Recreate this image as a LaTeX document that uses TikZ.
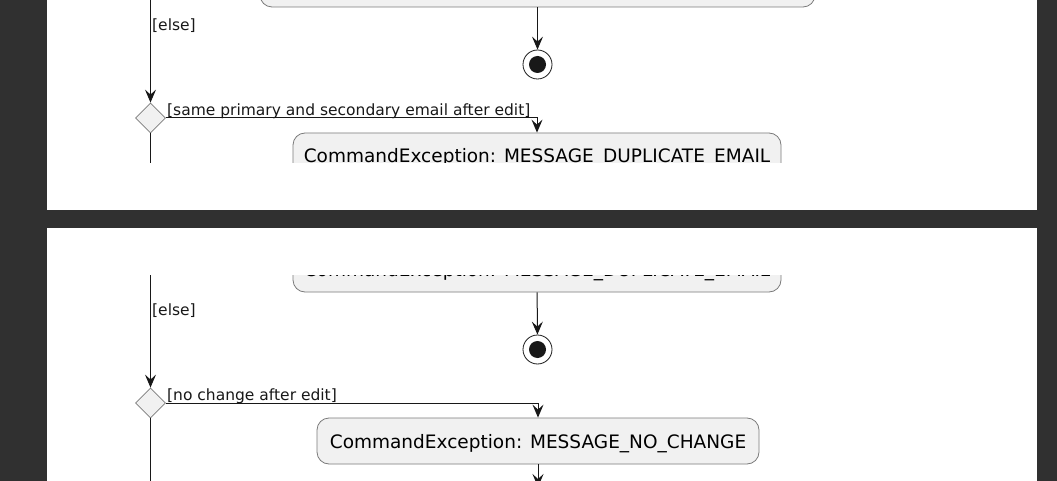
\documentclass[tikz,border=0pt]{standalone}
\usepackage{fontspec}
\setmainfont{DejaVu Sans}
\usetikzlibrary{arrows.meta,shapes.geometric}
\definecolor{ink}{HTML}{181818}
\definecolor{screen}{HTML}{303030}
\definecolor{actfill}{HTML}{F1F1F1}
\definecolor{rim}{HTML}{7A7A7A}

\begin{document}
\begin{tikzpicture}[x=1pt, y=-1pt,
    act/.style={draw=rim, line width=0.8pt, fill=actfill, rounded corners=12pt, minimum height=46pt, inner sep=0pt,
      text height=16pt, text depth=2pt, font=\fontsize{18.5}{20}\selectfont},
    choice/.style={diamond, draw=rim, line width=0.8pt, fill=actfill, minimum width=30pt, minimum height=30pt, inner sep=0pt},
    stop/.style={circle, draw=ink, line width=0.8pt, fill=white, minimum size=29pt, inner sep=0pt,
      path picture={\fill[ink] (path picture bounding box.center) circle (8.5pt);}},
    guard/.style={font=\fontsize{15.5}{17}\selectfont, inner sep=0pt, text=ink},
    flow/.style={draw=ink, line width=1pt},
    >={Stealth[length=13pt, width=11pt, inset=5pt]}]
  % screen and the two cut-out panels
  \fill[screen] (0,0) rectangle (1057,481);
  \fill[white] (47,0) rectangle (1037,210);
  \fill[white] (47,228) rectangle (1037,481);

  % upper panel
  \begin{scope}
    \clip (47,0) rectangle (1037,163);
    \node[act, minimum width=555pt] (prev) at (537.5,-16) {};
    \node[stop] (end1) at (537.5,64.5) {};
    \node[choice] (d1) at (150.5,118) {};
    \node[act, minimum width=488pt] (dup) at (537,156) {CommandException: MESSAGE\_DUPLICATE\_EMAIL};
    \coordinate (in1) at (150.5,-10);
    \coordinate (out1) at (150.5,180);
    \node[guard, anchor=base west] (else1) at (152,31) {[else]};
    \node[guard, anchor=base west] (g1) at (167,115.5) {[same primary and secondary email after edit]};
    \draw[flow,->] (prev) -- (end1);
    \draw[flow,->] (in1) -- (d1);
    \draw[flow,->] (d1.east) -| (dup.north);
    \draw[flow] (d1) -- (out1);
  \end{scope}

  % lower panel
  \begin{scope}
    \clip (47,275) rectangle (1037,481);
    \node[act, minimum width=488pt] (dup2) at (537,269) {CommandException: MESSAGE\_DUPLICATE\_EMAIL};
    \node[stop] (end2) at (537.5,349.5) {};
    \node[choice] (d2) at (150.5,403) {};
    \node[act, minimum width=442pt] (nochg) at (538,441) {CommandException: MESSAGE\_NO\_CHANGE};
    \coordinate (in2) at (150.5,260);
    \coordinate (out2) at (150.5,495);
    \coordinate (next) at (538,487);
    \node[guard, anchor=base west] (else2) at (152,315) {[else]};
    \node[guard, anchor=base west] (g2) at (167,400) {[no change after edit]};
    \draw[flow,->] (dup2) -- (end2);
    \draw[flow,->] (in2) -- (d2);
    \draw[flow,->] (d2.east) -| (nochg.north);
    \draw[flow] (d2) -- (out2);
    \draw[flow,->] (nochg) -- (next);
  \end{scope}
\end{tikzpicture}
\end{document}
